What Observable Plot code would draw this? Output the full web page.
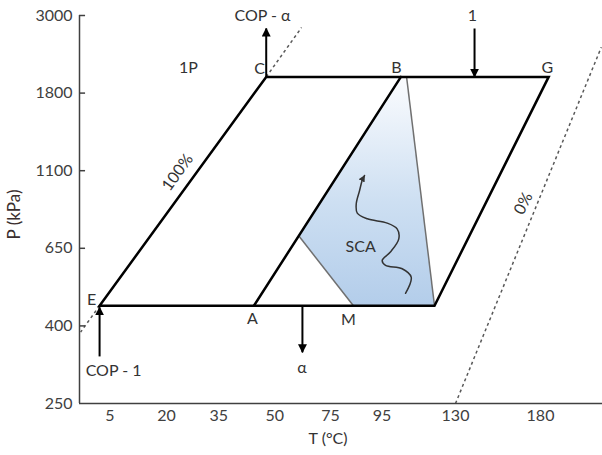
<!DOCTYPE html>
<html>
<head>
<meta charset="utf-8">
<script src="https://cdn.jsdelivr.net/npm/d3@7"></script>
<script src="https://cdn.jsdelivr.net/npm/@observablehq/plot@0.6"></script>
<style>
  html, body { margin: 0; padding: 0; background: #fff; }
  #chart { width: 602px; height: 455px; }
</style>
</head>
<body>
<div id="chart"></div>
<script>
// ---- tick labels ----
const xTicks = [5, 20, 35, 50, 75, 95, 130, 180];      // T (°C)
const yTicks = [250, 400, 650, 1100, 1800, 3000];       // P (kPa)

// ---- cycle outline E, C, G, H (T °C, P kPa) ----
const cycleT = [2.3, 47.7, 184.8, 120];
const cycleP = [465, 2050, 2050, 465];

// ---- isostere A -> B ----
const abT = [44.4, 104];
const abP = [465, 2050];

// ---- thin boundary lines of SCA region ----
const thinFromT = [106.7, 61];
const thinFromP = [2050, 718];
const thinToT = [120, 83.9];
const thinToP = [465, 465];

// ---- SCA shaded region ----
const scaT = [104, 106.7, 120, 83.9, 61];
const scaP = [2050, 2050, 465, 465, 718];

// ---- dashed lines (100% extensions and 0% line) ----
const dashFromT = [47.7, 2.3, 130];
const dashFromP = [2050, 465, 250];
const dashToT = [62, -2.7, 215.8];
const dashToP = [2814, 388, 2510];

// ---- arrows ----
const arrowFromT = [47.7, 141.2, 62.4, 2.3];
const arrowFromP = [2050, 2799, 465, 341];
const arrowToT = [47.7, 141.2, 62.4, 2.3];
const arrowToP = [2799, 2052, 349, 460];

// ---- wavy arrow inside SCA ----
const waveT = [106.2, 108.9, 104.6, 96.7, 95.1, 99, 103, 102.2, 97.5, 89.3, 85.4, 85, 86.3, 87.3, 88.2];
const waveP = [505, 557, 584, 595, 611, 638, 705, 763, 796, 821, 854, 908, 985, 1043, 1072];

// ---- labels ----
const labelText = ["COP - α", "1", "1P", "C", "B", "G", "E", "A", "M", "SCA", "α", "COP - 1"];
const labelT = [46.7, 140, 26.3, 45.9, 101.9, 184.1, 0.2, 44, 82, 86.7, 62.2, 6];
const labelP = [3000, 3000, 2196, 2180, 2196, 2196, 485, 422, 420, 660, 318, 314];

const rotText = ["100%", "0%"];
const rotT = [23.2, 170];
const rotP = [1090, 910];
const rotAngle = [-54, -63];

// ---- axis titles ----
const xTitle = "T (°C)";
const yTitle = "P (kPa)";

// ---- build tables ----
const cycle = cycleT.map((t, i) => ({T: t, P: cycleP[i]}));
const ab = abT.map((t, i) => ({T: t, P: abP[i]}));
const thin = thinFromT.map((t, i) => ({t1: t, p1: thinFromP[i], t2: thinToT[i], p2: thinToP[i]}));
const sca = scaT.map((t, i) => ({T: t, P: scaP[i]}));
const dashes = dashFromT.map((t, i) => ({t1: t, p1: dashFromP[i], t2: dashToT[i], p2: dashToP[i]}));
const arrows = arrowFromT.map((t, i) => ({t1: t, p1: arrowFromP[i], t2: arrowToT[i], p2: arrowToP[i]}));
const wave = waveT.map((t, i) => ({T: t, P: waveP[i]}));
const labels = labelText.map((s, i) => ({s, T: labelT[i], P: labelP[i]}));
const rlabels = rotText.map((s, i) => ({s, T: rotT[i], P: rotP[i], r: rotAngle[i]}));

// filled triangular arrowhead marker
const headMarker = (color) => {
  const m = d3.create("svg:marker")
    .attr("viewBox", "0 -5 10 10")
    .attr("refX", 9)
    .attr("refY", 0)
    .attr("markerWidth", 4.5)
    .attr("markerHeight", 4.5)
    .attr("orient", "auto");
  m.append("path").attr("d", "M0,-5L10,0L0,5Z").attr("fill", color).attr("stroke", "none");
  return m.node();
};

// gradient definition
const gradientDefs = () => {
  const defs = d3.create("svg:defs");
  const g = defs.append("linearGradient").attr("id", "scaGrad")
    .attr("x1", 0).attr("y1", 0).attr("x2", 0).attr("y2", 1);
  g.append("stop").attr("offset", "0%").attr("stop-color", "#fbfcfe");
  g.append("stop").attr("offset", "55%").attr("stop-color", "#cddff2");
  g.append("stop").attr("offset", "100%").attr("stop-color", "#b3cdea");
  return defs.node();
};

const xMin = -3, xMax = 216.5;

const chart = Plot.plot({
  width: 602,
  height: 455,
  marginLeft: 79,
  marginRight: 0,
  marginTop: 15,
  marginBottom: 52,
  style: {fontFamily: "Lato, 'Open Sans', sans-serif", fontSize: "16px", color: "#404040", background: "#fff"},
  x: {type: "linear", domain: [xMin, ...xTicks, xMax],
      range: [79, 109.3, 166, 218.3, 274.3, 330, 381.5, 455, 540, 602]},
  y: {type: "linear", domain: yTicks, range: [403, 325.4, 247.8, 170.2, 92.6, 15]},
  marks: [
    gradientDefs,
    // shaded SCA region
    Plot.line(sca, {x: "T", y: "P", curve: "linear-closed", fill: "url(#scaGrad)", stroke: "none"}),
    // thin lines
    Plot.link(thin, {x1: "t1", y1: "p1", x2: "t2", y2: "p2", stroke: "#707070", strokeWidth: 1.5}),
    // dashed lines
    Plot.link(dashes, {x1: "t1", y1: "p1", x2: "t2", y2: "p2", stroke: "#595959", strokeWidth: 1.5, strokeDasharray: "3,3"}),
    // main cycle
    Plot.line(cycle, {x: "T", y: "P", curve: "linear-closed", stroke: "#000", strokeWidth: 2.5, strokeLinejoin: "miter", strokeMiterlimit: 10}),
    Plot.line(ab, {x: "T", y: "P", stroke: "#000", strokeWidth: 2.5}),
    // axes lines
    Plot.ruleX([xMin], {y1: yTicks[0], y2: yTicks[yTicks.length - 1], stroke: "#404040", strokeWidth: 1.5}),
    Plot.ruleY([yTicks[0]], {x1: xMin, x2: xMax, stroke: "#404040", strokeWidth: 1.5}),
    // inward y ticks
    Plot.ruleY(yTicks.slice(1), {x1: xMin, x2: xMin + 1.6, stroke: "#404040", strokeWidth: 1.5}),
    Plot.axisY(yTicks, {tickSize: 0, tickPadding: 7, label: null, fill: "#404040", tickFormat: d => String(d)}),
    Plot.axisX(xTicks, {tickSize: 0, tickPadding: 6, label: null, fill: "#404040", tickFormat: d => String(d)}),
    // arrows
    Plot.link(arrows, {x1: "t1", y1: "p1", x2: "t2", y2: "p2", stroke: "#000", strokeWidth: 2, markerEnd: headMarker}),
    // wavy arrow
    Plot.line(wave, {x: "T", y: "P", curve: "catmull-rom", stroke: "#333", strokeWidth: 1.5, markerEnd: headMarker}),
    // labels
    Plot.text(labels, {x: "T", y: "P", text: "s", fill: "#333"}),
    Plot.text(rlabels, {x: "T", y: "P", text: "s", rotate: "r", fill: "#333"}),
    // axis titles
    Plot.text([xTitle], {x: 73.9, frameAnchor: "bottom", dy: 40, fill: "#333"}),
    Plot.text([yTitle], {x: xMin, y: 846, dx: -65, rotate: -90, fill: "#3a2e2e", fontSize: 17})
  ]
});
document.getElementById("chart").append(chart);
</script>
</body>
</html>
